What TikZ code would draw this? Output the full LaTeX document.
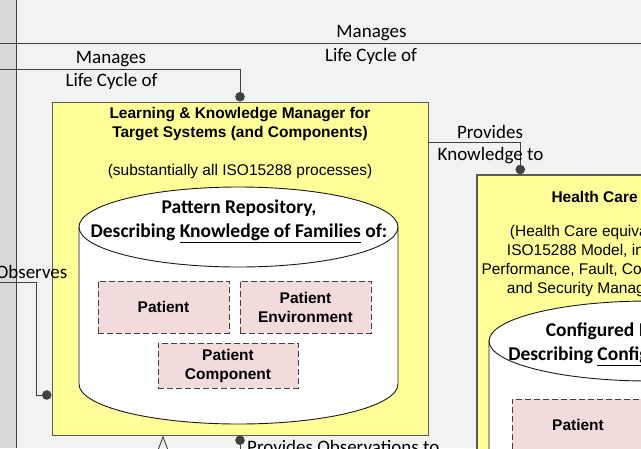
\documentclass[tikz,border=0pt]{standalone}
\usepackage{fontspec}
\setmainfont{Liberation Sans}
\newfontfamily\calibrif{Carlito}
\usetikzlibrary{arrows.meta}

\definecolor{bgcol}{HTML}{F2F2F2}
\definecolor{stripcol}{HTML}{D9D9D9}
\definecolor{mgryellow}{HTML}{FFFF99}
\definecolor{famfill}{HTML}{F2DCDB}
\definecolor{linecol}{HTML}{404040}

\begin{document}
\begin{tikzpicture}[x=1pt,y=-1pt,font=\fontsize{15.5}{19}\selectfont,
  conn/.style={draw=linecol,line width=.9pt},
  dotend/.style={-{Circle[length=9.5pt]}},
  lbl/.style={font=\calibrif\fontsize{19}{23}\selectfont,anchor=base,inner sep=0pt},
  mgrbox/.style={draw=black!65,line width=1pt,fill=mgryellow,inner sep=0pt},
  famblock/.style={draw=linecol,dash pattern=on 6pt off 3pt,line width=1pt,fill=famfill,
    minimum width=131pt,minimum height=52pt,align=center,inner sep=0pt,
    font=\bfseries\fontsize{15.5}{19}\selectfont},
  repo/.style={draw=black!90,line width=.9pt,fill=white},
  repotext/.style={font=\calibrif\bfseries\fontsize{19.5}{24}\selectfont,align=center,inner sep=0pt}]
  \clip (0,0) rectangle (641,448);
  \fill[bgcol] (0,0) rectangle (641,448);
  \fill[stripcol] (0,0) rectangle (16,448);
  \draw[linecol,line width=1pt] (16,0) -- (16,448);

  % managers
  \node[mgrbox,minimum width=376pt,minimum height=333pt] (lkm) at (240,268.5) {};
  \node[mgrbox,line width=1.5pt,minimum width=346pt,minimum height=345pt] (hcm) at (650,347.5) {};
  \node[align=center,font=\bfseries\fontsize{15.5}{19}\selectfont] (lkmt) at (240,123.7)
    {Learning \& Knowledge Manager for\\Target Systems (and Components)};
  \node[anchor=base] (lkms) at (240,175) {(substantially all ISO15288 processes)};
  \node[anchor=base west,font=\bfseries\fontsize{15.5}{19}\selectfont] (hcmt) at (548,202)
    {Health Care Management System};
  \node[align=center] (hcms) at (600,261)
    {(Health Care equivalent of\\ISO15288 Model, including\\Performance, Fault, Configuration,\\and Security Management)};

  % repositories
  \draw[repo] (79,227) -- (79,384) arc[start angle=180,end angle=0,x radius=159.5,y radius=40] -- (398,227);
  \draw[repo] (238.5,227) ellipse[x radius=159.5,y radius=40];
  \draw[repo] (489,341) -- (489,500) arc[start angle=180,end angle=0,x radius=160,y radius=40] -- (809,341);
  \draw[repo] (649,341) ellipse[x radius=160,y radius=40];
  \node[repotext] (prt) at (239,221.6) {Pattern Repository,\\Describing \underline{Knowledge of Families} of:};
  \node[repotext] (cmt) at (625,344.6) {Configured Models,\\Describing \underline{Configurations} of:};

  \node[famblock] (pat) at (163.5,307) {Patient};
  \node[famblock] (penv) at (305.5,307) {Patient\\Environment};
  \node[famblock,minimum width=140pt,minimum height=45pt] (pcomp) at (228,365.5) {Patient\\Component};
  \node[famblock,minimum width=132pt] (pat2) at (578,425) {Patient};

  % connectors
  \coordinate (topL) at (-2,43);
  \coordinate (topR) at (643,43);
  \draw[conn] (topL) -- (topR);
  \node[lbl] (mg1) at (371.5,37.2) {Manages};
  \node[lbl] (lc1) at (371,61.5) {Life Cycle of};

  \coordinate (lcin) at (-2,69);
  \draw[conn,dotend] (lcin) -| (lkm.north);
  \node[lbl] (mg2) at (111,63) {Manages};
  \node[lbl] (lc2) at (111.5,86.3) {Life Cycle of};

  \draw[conn,dotend] ([yshift=-41pt]lkm.north east) -| ([xshift=44pt]hcm.north west);
  \node[lbl] (pv1) at (490,138.2) {Provides};
  \node[lbl] (kn1) at (490.5,160.5) {Knowledge to};

  \coordinate (obsin) at (-2,282);
  \draw[conn,dotend] (obsin) -| ([xshift=-15pt,yshift=-126.5pt]lkm.west) -- ([yshift=-126.5pt]lkm.west);
  \node[lbl,anchor=base east] (obs) at (67.5,278) {Observes};

  \coordinate (fbin) at (163,470);
  \draw[conn,-{Triangle[open,length=15pt,width=11pt]}] (fbin) -- ([xshift=-77pt]lkm.south);

  \coordinate (obsout) at (240,470);
  \draw[conn,{Circle[length=9.5pt]}-] (lkm.south) -- (obsout);
  \node[lbl,anchor=base west] (pvo) at (247,453) {Provides Observations to};
\end{tikzpicture}
\end{document}
